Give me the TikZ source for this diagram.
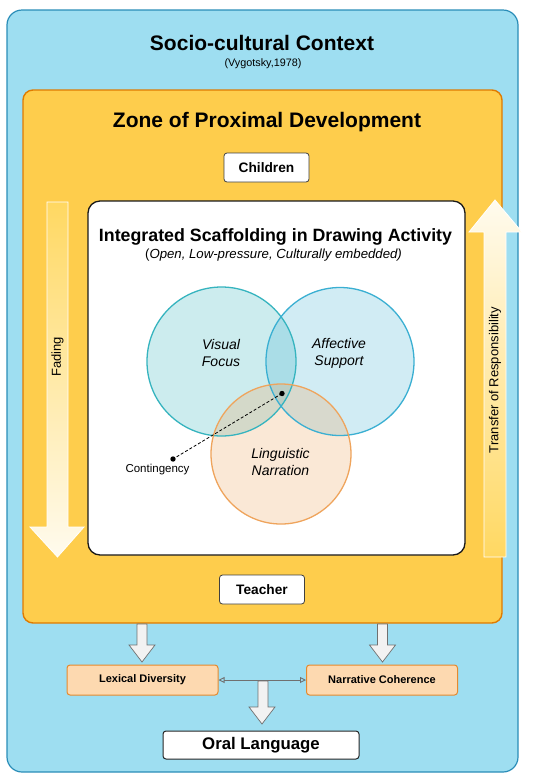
\documentclass[tikz,border=0pt]{standalone}
\usepackage{fontspec}
\setmainfont{Liberation Sans}
\usetikzlibrary{arrows.meta}
\definecolor{ctxfill}{HTML}{9EDEF1}
\definecolor{ctxline}{HTML}{2A8DB8}
\definecolor{zpdfill}{HTML}{FECD4C}
\definecolor{zpdline}{HTML}{E07B00}
\definecolor{outfill}{HTML}{FDD9B0}
\definecolor{outline}{HTML}{E58A2E}
\definecolor{visline}{HTML}{36B4BF}
\definecolor{affline}{HTML}{3AAFD2}
\definecolor{linline}{HTML}{EFA45C}
\definecolor{fadetop}{HTML}{FFD862}
\definecolor{fadebot}{HTML}{FFFBEE}
\definecolor{blockfill}{HTML}{F2F2F2}
\definecolor{blockline}{HTML}{707070}
\tikzset{
  rolebox/.style={draw=black!75, fill=white, rounded corners=3pt, line width=0.8pt, minimum width=85pt, minimum height=29pt, font=\fontsize{13.7}{16}\selectfont\bfseries},
  outbox/.style={draw=outline, fill=outfill, rounded corners=3pt, line width=1pt, minimum width=151pt, minimum height=30pt, font=\fontsize{11}{13}\selectfont\bfseries},
  circlabel/.style={align=center, font=\fontsize{14}{17}\selectfont\itshape},
  sidelabel/.style={rotate=90, font=\fontsize{13}{15}\selectfont},
  blockarrow/.style={fill=blockfill, draw=blockline, line width=0.7pt, line join=miter},
}
\begin{document}
\begin{tikzpicture}[x=1pt,y=-1pt]
\useasboundingbox (0,0) rectangle (550,780);
% outer context
\draw[fill=ctxfill, draw=ctxline, line width=1.2pt, rounded corners=15pt] (7,10) rectangle (518,772);
\node (ctxtitle) at (262,43) {\fontsize{21}{24}\selectfont\bfseries Socio-cultural Context};
\node (ctxsub) at (263,64) {\fontsize{10.8}{12}\selectfont (Vygotsky,1978)};
% ZPD
\draw[fill=zpdfill, draw=zpdline, line width=1.4pt, rounded corners=10pt] (23,90) rectangle (502,623);
\node (zpdtitle) at (267,122) {\fontsize{21}{24}\selectfont\bfseries Zone of Proximal Development};
\node[rolebox] (children) at (266.5,167.5) {Children};
\node[rolebox] (teacher) at (262,589.5) {Teacher};
% fading arrow
\shade[top color=fadetop, bottom color=fadebot, draw=white, line width=0.8pt]
  (47,202) -- (68,202) -- (68,527) -- (84,527) -- (57.5,557) -- (30,527) -- (47,527) -- cycle;
\node[sidelabel] (fading) at (57.5,357) {Fading};
% transfer arrow
\shade[top color=fadebot, bottom color=fadetop, draw=white, line width=0.8pt]
  (484,557) -- (506,557) -- (506,232) -- (522,232) -- (495,200) -- (469,232) -- (484,232) -- cycle;
\node[sidelabel] (transfer) at (495,380) {Transfer of Responsibility};
% inner box
\draw[fill=white, draw=black!90, line width=1.3pt, rounded corners=12pt] (88,201) rectangle (465,555);
\node (isa) at (275.5,237) {\fontsize{17.8}{20}\selectfont\bfseries Integrated Scaffolding in Drawing Activity};
\node (isasub) at (273.5,255) {\fontsize{13.2}{15}\selectfont (\textit{Open, Low-pressure, Culturally embedded)}};
% circles
\fill[visline, fill opacity=0.25] (221.5,361.5) circle (74.5);
\fill[affline, fill opacity=0.23] (340,361.5) circle (74);
\fill[linline, fill opacity=0.25] (281,454) circle (70);
\draw[visline, line width=1.3pt] (221.5,361.5) circle (74.5);
\draw[affline, line width=1.3pt] (340,361.5) circle (74);
\draw[linline, line width=1.3pt] (281,454) circle (70);
\node[circlabel] (visual) at (221,353) {Visual\\Focus};
\node[circlabel] (affective) at (339,353) {Affective\\Support};
\node[circlabel] (linguistic) at (280.5,462) {Linguistic\\Narration};
% contingency
\fill (282,393.5) circle (2.7) coordinate (cint);
\fill (173,459) circle (2.7) coordinate (cdot);
\draw[line width=0.8pt, dash pattern=on 3pt off 2pt] (cint) -- (cdot);
\node[font=\fontsize{11.5}{13}\selectfont] (contingency) at (157.5,469.5) {Contingency};
% outputs
\node[outbox] (lexical) at (142.5,680) {Lexical Diversity};
\node[outbox] (narrative) at (382,680) {Narrative Coherence};
\node[draw=black!85, fill=white, rounded corners=3pt, line width=1pt, minimum width=196pt, minimum height=28pt, font=\fontsize{16.8}{19}\selectfont\bfseries] (oral) at (261,745) {Oral Language};
% block arrows
\draw[blockarrow] (137,624) -- (147,624) -- (147,645) -- (155,645) -- (142,662) -- (129,645) -- (137,645) -- cycle;
\draw[blockarrow] (377.5,624) -- (387.5,624) -- (387.5,645) -- (395.5,645) -- (382.5,662) -- (369.5,645) -- (377.5,645) -- cycle;
\draw[blockline, line width=0.9pt, {Triangle[open,length=6pt,width=6pt]}-{Triangle[open,length=6pt,width=6pt]}] (lexical.east) -- (narrative.west);
\draw[blockarrow] (258,681) -- (268,681) -- (268,707) -- (275,707) -- (262,724) -- (249,707) -- (258,707) -- cycle;
\end{tikzpicture}
\end{document}
